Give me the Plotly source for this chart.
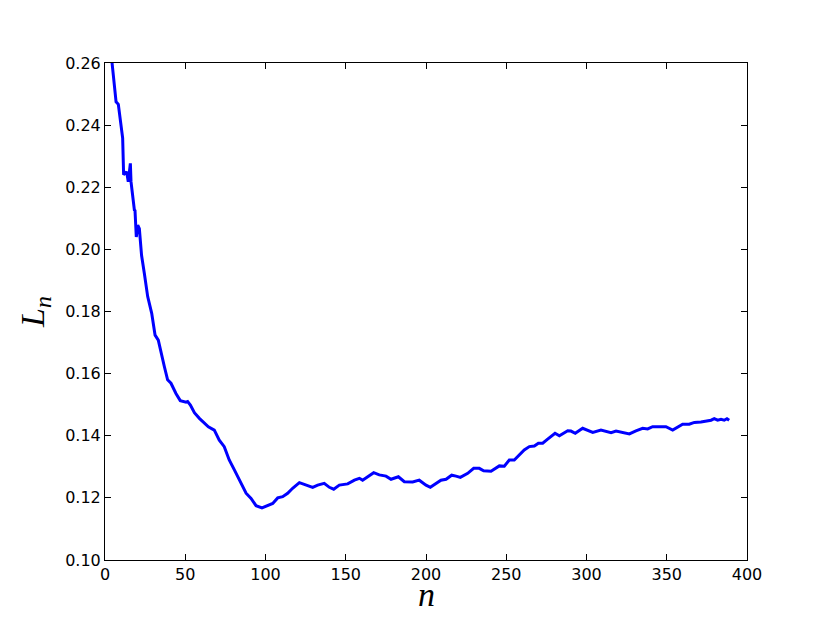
import plotly.graph_objects as go

# ----------------------------
# Data
# ----------------------------
n_vals = [
    3, 4.4, 6.9, 8.3, 11, 11.6, 13.5, 14.5, 15.8, 16.2, 18.3, 18.7, 19.5, 20.4, 21.4,
    22.8, 24.5, 26.6, 29.1, 31.2, 33.2, 34.9, 37, 39, 41.1, 44.2, 46.9, 50.5, 51.5,
    53.2, 55.7, 58.8, 61.9, 64.4, 68.1, 71.2, 74.3, 77.4, 80.6, 83.7, 87.9, 91, 94.1,
    97.8, 101.4, 104.5, 107.6, 110.7, 113.8, 116.9, 121.1, 125.2, 129.4, 132.5, 136.6,
    139.8, 142.5, 146, 151.2, 155.4, 158.5, 160.5, 163.7, 167.4, 170.9, 175.1, 178.2,
    182.8, 186.5, 191.7, 195.8, 200, 202.7, 206.2, 209.3, 212.5, 216, 218.7, 221.4,
    226, 229.7, 233.2, 235.9, 240.5, 245.7, 248.8, 251.9, 255, 258.1, 261.2, 264.4,
    267.5, 270, 272.7, 275.8, 280.4, 283.1, 288.3, 290.3, 293, 297.6, 300.7, 303.9,
    309, 312.1, 315.3, 318.4, 322.6, 326.7, 330.8, 335, 338.1, 341.2, 345.4, 349.5,
    353.7, 356.8, 359.9, 364, 367.2, 371.3, 375.5, 377.6, 379.6, 381.7, 383.8, 385.8,
    387.5, 388.9,
]
L_vals = [
    0.275, 0.260, 0.2475, 0.2467, 0.2358, 0.224, 0.225, 0.2218, 0.2277, 0.2218, 0.2127,
    0.2125, 0.204, 0.2078, 0.2067, 0.1980, 0.1923, 0.1848, 0.1794, 0.1724, 0.1708,
    0.1665, 0.1622, 0.158, 0.1569, 0.1536, 0.1513, 0.1508, 0.151, 0.1499, 0.1474,
    0.1456, 0.144, 0.1429, 0.1418, 0.1386, 0.1365, 0.1322, 0.129, 0.1257, 0.1215,
    0.1198, 0.1175, 0.1168, 0.1175, 0.1182, 0.1200, 0.1204, 0.1215, 0.1231, 0.1249,
    0.1241, 0.1234, 0.1241, 0.1247, 0.1234, 0.1228, 0.1241, 0.1245, 0.1257, 0.1263,
    0.1257, 0.1268, 0.1281, 0.1274, 0.127, 0.126, 0.1268, 0.1252, 0.1251, 0.1257,
    0.1241, 0.1234, 0.1247, 0.1257, 0.126, 0.1273, 0.127, 0.1266, 0.1279, 0.1295,
    0.1295, 0.1287, 0.1286, 0.1303, 0.1302, 0.1322, 0.1322, 0.1338, 0.1354, 0.1365,
    0.1367, 0.1376, 0.1376, 0.1389, 0.1408, 0.14, 0.1416, 0.1415, 0.1408, 0.1424,
    0.1418, 0.1411, 0.1418, 0.1413, 0.141, 0.1415, 0.141, 0.1406, 0.1416, 0.1424,
    0.1422, 0.1429, 0.1429, 0.1429, 0.1418, 0.1427, 0.1437, 0.1437, 0.1443, 0.1444,
    0.1447, 0.145, 0.1455, 0.145, 0.1453, 0.145, 0.1455, 0.145,
]

x_ticks = [0, 50, 100, 150, 200, 250, 300, 350, 400]
y_ticks = [0.10, 0.12, 0.14, 0.16, 0.18, 0.20, 0.22, 0.24, 0.26]

fig = go.Figure()
fig.add_trace(go.Scatter(
    x=n_vals, y=L_vals, mode="lines",
    line=dict(color="#0000ff", width=3),
    showlegend=False,
))

axis_style = dict(
    showgrid=False, zeroline=False,
    showline=True, linecolor="black", linewidth=1, mirror="ticks",
    ticks="inside", ticklen=6, tickcolor="black", tickwidth=1,
    tickfont=dict(family="DejaVu Sans", size=16, color="black"),
)

# page body adds ~8px offset, so margins are shifted to compensate
fig.update_layout(
    width=830, height=623,
    margin=dict(l=97, r=91, t=55, b=71),
    paper_bgcolor="white", plot_bgcolor="white",
    xaxis=dict(range=[0, 400], tickvals=x_ticks, **axis_style),
    yaxis=dict(range=[0.10, 0.26], tickvals=y_ticks, tickformat=".2f", **axis_style),
)

# Axis labels in a math-like italic serif
fig.add_annotation(
    text="<i>n</i>", xref="paper", yref="paper", x=0.5, y=-0.07,
    yanchor="middle", showarrow=False,
    font=dict(family="Liberation Serif", size=34, color="black"),
)
fig.add_annotation(
    text="<i>L</i><sub><i>n</i></sub>", xref="paper", yref="paper",
    x=-0.11, y=0.5, xanchor="center", yanchor="middle", textangle=-90,
    showarrow=False,
    font=dict(family="Liberation Serif", size=34, color="black"),
)

fig.write_html("out.html")
